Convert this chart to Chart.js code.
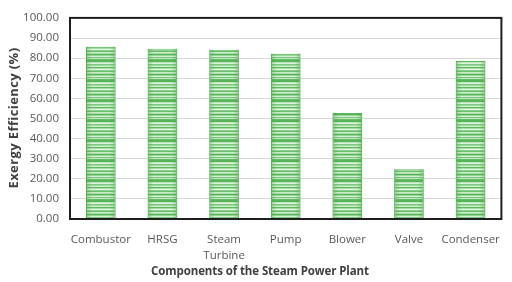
<!DOCTYPE html>
<html><head><meta charset="utf-8">
<script src="https://cdn.jsdelivr.net/npm/chart.js@4/dist/chart.umd.min.js"></script>
<style>html,body{margin:0;padding:0;background:#fff}#wrap{width:512px;height:282px}</style>
</head><body><div id="wrap"><canvas id="c" width="512" height="282"></canvas></div>
<script>
const categories = ['Combustor', 'HRSG', ['Steam', 'Turbine'], 'Pump', 'Blower', 'Valve', 'Condenser'];
const efficiency = [85.6, 84.6, 84.2, 82.2, 52.7, 24.7, 78.6];
const yTicks = [0, 10, 20, 30, 40, 50, 60, 70, 80, 90, 100];
const xTitle = 'Components of the Steam Power Plant';
const yTitle = 'Exergy Efficiency (%)';

function stripePattern() {
  const rows = ['#58b658','#58b658','#bfe6bf','#dcf2dc','#7fc97f','#9fd89f','#d2eed2','#5db95d','#aadcaa','#e4f6e4','#8dd08d','#6ac06a','#c9eac9','#b0dfb0','#52b352','#9ad69a','#d8f0d8','#78c678','#c0e7c0','#66be66'];
  const p = document.createElement('canvas');
  p.width = 4; p.height = rows.length;
  const g = p.getContext('2d');
  rows.forEach((c, i) => { g.fillStyle = c; g.fillRect(0, i, 4, 1); });
  return document.createElement('canvas').getContext('2d').createPattern(p, 'repeat');
}

const frame = {
  id: 'frame',
  afterDatasetsDraw(chart) {
    const {ctx, chartArea: a} = chart;
    ctx.save();
    chart.getDatasetMeta(0).data.forEach(b => {
      const l = b.x - b.width / 2, r = b.x + b.width / 2;
      const gr = ctx.createLinearGradient(l, 0, r, 0);
      gr.addColorStop(0, 'rgba(60,160,60,0.35)');
      gr.addColorStop(0.2, 'rgba(60,160,60,0)');
      gr.addColorStop(0.8, 'rgba(60,160,60,0)');
      gr.addColorStop(1, 'rgba(60,160,60,0.35)');
      ctx.fillStyle = gr;
      ctx.fillRect(l, b.y, r - l, b.base - b.y);
    });
    ctx.strokeStyle = '#1e1e1e';
    ctx.lineWidth = 2;
    ctx.strokeRect(a.left, a.top, a.right - a.left, a.bottom - a.top);
    ctx.fillStyle = '#404040';
    ctx.textAlign = 'center';
    ctx.textBaseline = 'middle';
    ctx.font = 'bold 11.5px "Open Sans"';
    ctx.letterSpacing = '-0.1px';
    ctx.fillText(xTitle, 260, 272);
    ctx.translate(14, 118);
    ctx.rotate(-Math.PI / 2);
    ctx.font = 'bold 13px "Open Sans"';
    ctx.letterSpacing = '0.4px';
    ctx.fillText(yTitle, 0, 0);
    ctx.restore();
  }
};

new Chart(document.getElementById('c'), {
  type: 'bar',
  data: {
    labels: categories,
    datasets: [{
      data: efficiency,
      backgroundColor: stripePattern(),
      borderColor: '#5cb85c',
      borderWidth: 1,
      categoryPercentage: 1,
      barPercentage: 0.48
    }]
  },
  options: {
    responsive: false,
    animation: false,
    layout: {padding: {top: 6, right: 3, left: 0, bottom: 0}},
    plugins: {legend: {display: false}, tooltip: {enabled: false}},
    scales: {
      x: {
        grid: {display: false, drawTicks: false},
        border: {display: false},
        ticks: {color: '#595959', font: {family: 'Open Sans', size: 11.5, lineHeight: 1.45}, padding: 12, maxRotation: 0, autoSkip: false},
        afterFit(s) { s.height = 63; }
      },
      y: {
        min: 0, max: 100,
        afterBuildTicks(s) { s.ticks = yTicks.map(v => ({value: v})); },
        grid: {color: '#d9d9d9', lineWidth: 1, drawTicks: false},
        border: {display: false},
        ticks: {color: '#595959', font: {family: 'Open Sans', size: 11.5}, padding: 11, callback: v => Number(v).toFixed(2)},
        afterFit(s) { s.width = 70; }
      }
    }
  },
  plugins: [frame]
});
</script></body></html>
